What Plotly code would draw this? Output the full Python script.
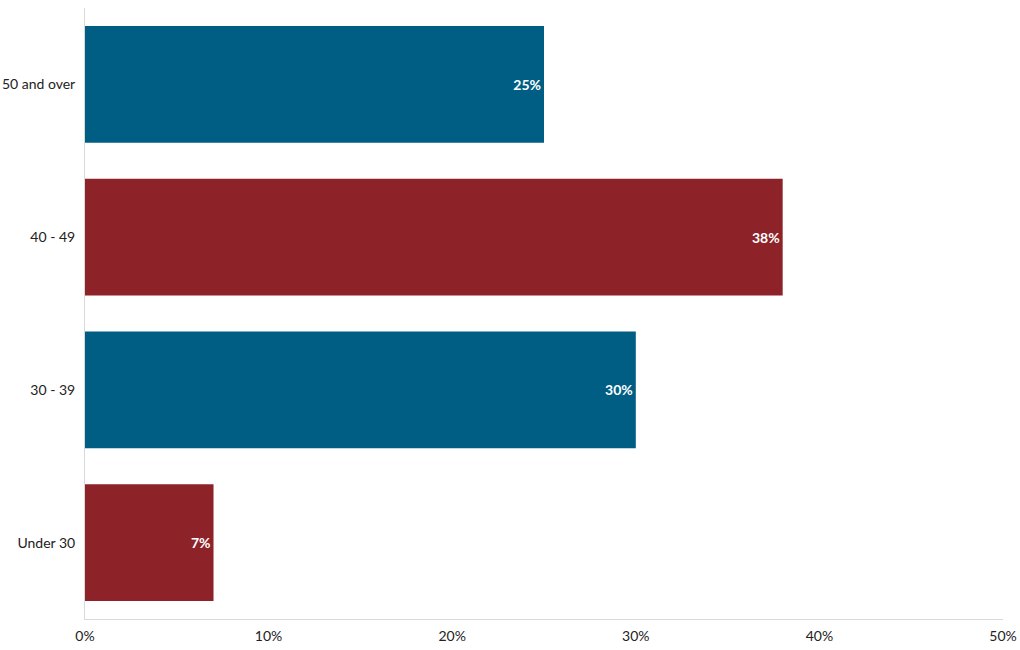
import plotly.graph_objects as go

categories = ["Under 30", "30 - 39", "40 - 49", "50 and over"]
values = [7, 30, 38, 25]
colors = ["#8E2229", "#005E85", "#8E2229", "#005E85"]
tick_vals = [0, 10, 20, 30, 40, 50]
tick_text = ["0%", "10%", "20%", "30%", "40%", "50%"]

fig = go.Figure(go.Bar(
    x=values, y=categories, orientation="h",
    marker=dict(color=colors, line=dict(width=0)),
    text=[f"<b>{v}%</b>" for v in values],
    textposition="inside", insidetextanchor="end",
    textfont=dict(color="white", size=14, family="Lato"),
    hoverinfo="skip",
))
fig.update_layout(
    width=1020, height=650,
    margin=dict(l=85, r=17, t=8, b=31),
    paper_bgcolor="white", plot_bgcolor="white",
    font=dict(family="Lato", size=14, color="#222222"),
    bargap=0.235,
    showlegend=False,
    xaxis=dict(range=[0, 50], tickvals=tick_vals, ticktext=tick_text,
               showgrid=False, zeroline=False, showline=True, automargin=False,
               linecolor="#D9D9D9", linewidth=1, ticks="", ticklabelstandoff=4),
    yaxis=dict(showgrid=False, zeroline=False, showline=True, automargin=False,
               linecolor="#D9D9D9", linewidth=1, ticks="", ticklabelstandoff=6),
)
fig.write_html("out.html")
